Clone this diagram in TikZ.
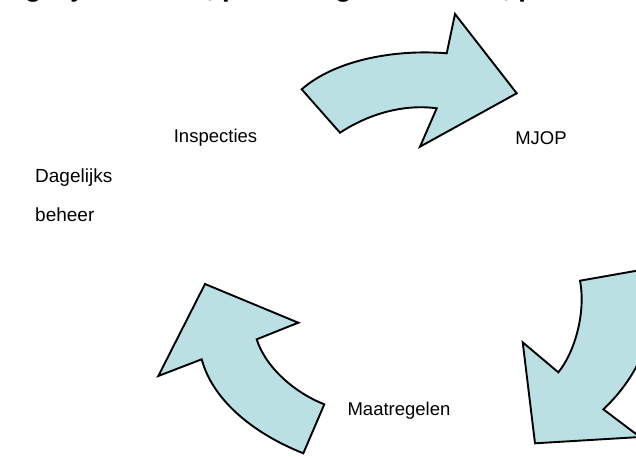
\documentclass[tikz,border=0pt]{standalone}
\usepackage{fontspec}
\setmainfont{Liberation Sans}
\begin{document}
\begin{tikzpicture}[x=1pt,y=-1pt,
  cyclearrow/.style={draw=black,line width=1.9pt,line join=miter,fill={rgb,255:red,187;green,224;blue,227}},
  lbl/.style={inner sep=0pt,font=\fontsize{18.5}{20}\selectfont},
  lbltwo/.style={inner sep=0pt,anchor=west,font=\fontsize{19}{22}\selectfont},
  titletext/.style={inner sep=0pt,anchor=base west,font=\fontsize{27.5}{30}\selectfont\bfseries}]
\useasboundingbox (0,0) rectangle (636,456);
\clip (0,0) rectangle (636,456);
% cut-off title
\node[titletext] (title) at (-10.5,-3.5) {Dagelijks beheer, planmatig onderhoud, periodiek};
% top arrow
\draw[cyclearrow] (301.7,89.3) -- (340,132.7)
  .. controls (370,113) and (405,104) .. (436.7,108.3)
  -- (420,146.7) -- (516.7,93.3) -- (455,14) -- (446.7,53.3)
  .. controls (395,49) and (335,60) .. cycle;
% right arrow
\draw[cyclearrow] (580,280.7) -- (652,268)
  .. controls (662,325) and (640,375) .. (603.3,409.3)
  -- (640,437) -- (535,443.3) -- (522.7,342.3) -- (558.3,372.3)
  .. controls (575,352) and (586,312) .. cycle;
% bottom-left arrow
\draw[cyclearrow] (324.3,404.3) -- (303.3,453.3)
  .. controls (250,432) and (212,398) .. (201.7,359.3)
  -- (158.3,376) -- (205,284) -- (298.3,322.7) -- (256.7,339.3)
  .. controls (265,366) and (293,392) .. cycle;
% labels
\node[lbl] (insp) at (215.5,138) {Inspecties};
\node[lbl] (mjop) at (541,138) {MJOP};
\node[lbl] (maat) at (399,411) {Maatregelen};
\node[lbltwo] (dag) at (35,178) {Dagelijks};
\node[lbltwo] (beh) at (35,215) {beheer};
\end{tikzpicture}
\end{document}
